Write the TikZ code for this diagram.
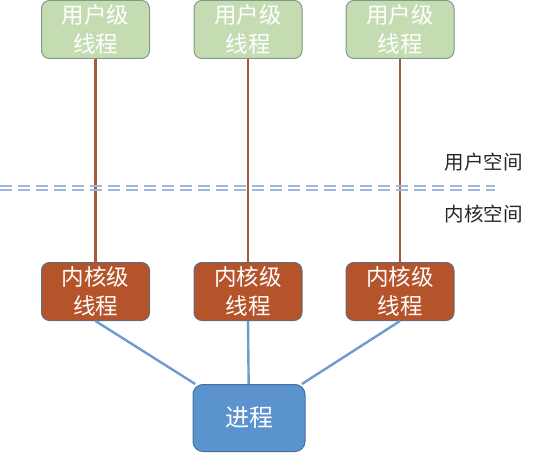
\documentclass[tikz,border=0pt]{standalone}
\usepackage{fontspec}
\setmainfont{Noto Sans CJK SC}
\begin{document}
\begin{tikzpicture}[x=1pt,y=-1pt,
  base/.style={rounded corners=8pt, minimum width=108pt, minimum height=58pt, align=center, font=\fontsize{22.5}{29}\selectfont, line width=1pt, inner sep=0pt},
  userbox/.style={base, fill=ugreen, draw=ugborder, text=white},
  kernbox/.style={base, fill=krust, draw=kborder, text=white},
  procbox/.style={base, minimum width=112pt, minimum height=67pt, fill=pblue, draw=pborder, text=white, rounded corners=10pt, font=\fontsize{24}{29}\selectfont},
  uline/.style={draw=brown1, line width=2.4pt},
  kline/.style={draw=lblue, line width=2.4pt},
  lab/.style={font=\fontsize{19.5}{22}\selectfont, text=black!85}]
\definecolor{ugreen}{HTML}{C5DCB3}
\definecolor{ugborder}{HTML}{7F9A86}
\definecolor{krust}{HTML}{B5532A}
\definecolor{kborder}{HTML}{5E6D80}
\definecolor{pblue}{HTML}{5B93CF}
\definecolor{pborder}{HTML}{43709E}
\definecolor{brown1}{HTML}{A85A3C}
\definecolor{lblue}{HTML}{6C9BCF}
\definecolor{dblue}{HTML}{9DBADC}
\useasboundingbox (0,0) rectangle (537,454);
\node[userbox] (u1) at (95.5,29.5) {用户级\\线程};
\node[userbox] (u2) at (248,29.5) {用户级\\线程};
\node[userbox] (u3) at (400,29.5) {用户级\\线程};
\node[kernbox] (k1) at (95.5,291.5) {内核级\\线程};
\node[kernbox] (k2) at (248,291.5) {内核级\\线程};
\node[kernbox] (k3) at (400,291.5) {内核级\\线程};
\node[procbox] (p) at (249,418) {进程};
\draw[uline] (u1) -- (k1);
\draw[uline] (u2) -- (k2);
\draw[uline] (u3) -- (k3);
\draw[kline] (k1.south) -- (p);
\draw[kline] (k2.south) -- (p);
\draw[kline] (k3.south) -- (p);
\coordinate (dl) at (0,188);
\coordinate (dr) at (495,188);
\draw[dblue, line width=1.6pt, dash pattern=on 12pt off 6pt] ([yshift=-2pt]dl) -- ([yshift=-2pt]dr);
\draw[dblue, line width=1.6pt, dash pattern=on 12pt off 6pt] ([yshift=2pt]dl) -- ([yshift=2pt]dr);
\node[lab, anchor=west] (ls) at (441,162) {用户空间};
\node[lab, anchor=west] (lk) at (441,214) {内核空间};
\end{tikzpicture}
\end{document}
